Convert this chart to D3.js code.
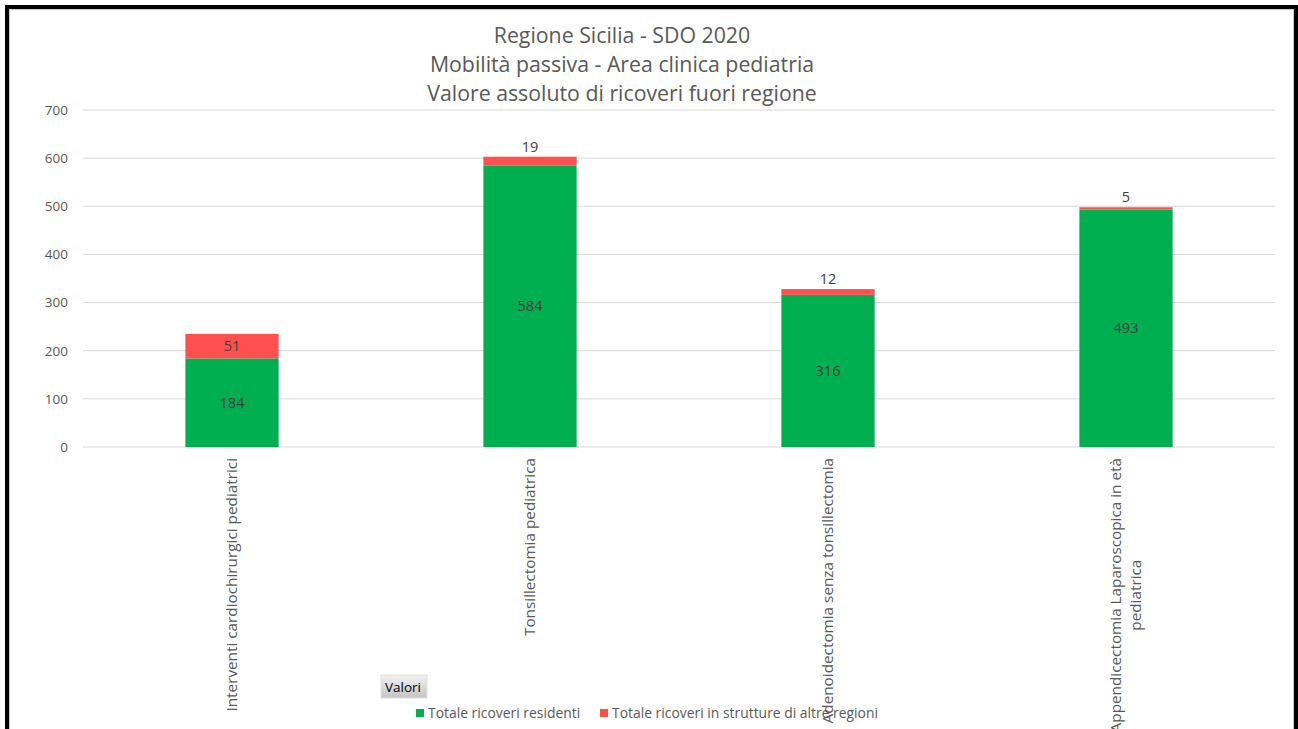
<!DOCTYPE html>
<html>
<head>
<meta charset="utf-8">
<script src="https://cdn.jsdelivr.net/npm/d3@7"></script>
<style>
  body { margin: 0; background: #fff; }
  text { font-family: "Open Sans", sans-serif; }
</style>
</head>
<body>
<div class="chart"></div>
<script>
const titleLines = [
  "Regione Sicilia - SDO 2020",
  "Mobilità passiva - Area clinica pediatria",
  "Valore assoluto di ricoveri fuori regione"
];
const categories = [
  ["Interventi cardiochirurgici pediatrici"],
  ["Tonsillectomia pediatrica"],
  ["Adenoidectomia senza tonsillectomia"],
  ["Appendicectomia Laparoscopica in età", "pediatrica"]
];
const residenti = [184, 584, 316, 493];
const altreRegioni = [51, 19, 12, 5];
const seriesNames = ["Totale ricoveri residenti", "Totale ricoveri in strutture di altre regioni"];
const seriesColors = ["#00B050", "#FF5050"];
const yTicks = [0, 100, 200, 300, 400, 500, 600, 700];

const W = 1298, H = 729;
const margin = { top: 110, right: 23, bottom: 282, left: 83 };
const width = W - margin.left - margin.right,
  height = H - margin.top - margin.bottom;

const svg = d3.select(".chart").append("svg")
  .attr("width", W).attr("height", H);

svg.append("rect").attr("width", W).attr("height", H).attr("fill", "#fff");

// outer frame
svg.append("rect")
  .attr("x", 7).attr("y", 7)
  .attr("width", 1289).attr("height", 760)
  .attr("fill", "none").attr("stroke", "#000").attr("stroke-width", 4);
svg.append("rect")
  .attr("x", 9.5).attr("y", 9.5)
  .attr("width", 1284).attr("height", 760)
  .attr("fill", "none").attr("stroke", "#c8c8c8").attr("stroke-width", 1);

// title
svg.append("g").selectAll("text")
  .data(titleLines).enter().append("text")
  .attr("x", 622)
  .attr("y", (d, i) => 43 + i * 29)
  .attr("text-anchor", "middle")
  .attr("font-size", 21.3)
  .attr("fill", "#595959")
  .text(d => d);

const g = svg.append("g")
  .attr("transform", "translate(" + margin.left + "," + margin.top + ")");

const keys = categories.map((c, i) => i);
const x = d3.scaleBand().domain(keys).range([0, width]).paddingInner(0.687).paddingOuter(0.3435);
const y = d3.scaleLinear().domain([0, 700]).range([height, 0]);

// gridlines
g.append("g").selectAll("line")
  .data(yTicks).enter().append("line")
  .attr("x1", 0).attr("x2", width)
  .attr("y1", d => y(d)).attr("y2", d => y(d))
  .attr("stroke", "#d9d9d9").attr("stroke-width", 1);

// y axis labels
const yAxis = g.append("g")
  .call(d3.axisLeft(y).tickValues(yTicks).tickSize(0).tickPadding(15));
yAxis.select(".domain").remove();
yAxis.selectAll("text")
  .attr("font-size", 13.5).attr("fill", "#595959")
  .style("font-family", "'Open Sans', sans-serif");

// stacked data
const rows = keys.map(i => ({ key: i, res: residenti[i], altre: altreRegioni[i] }));
const stack = d3.stack().keys(["res", "altre"])(rows);

g.selectAll(".layer")
  .data(stack).enter().append("g")
  .attr("fill", (d, i) => seriesColors[i])
  .selectAll("rect")
  .data(d => d).enter().append("rect")
  .attr("x", d => x(d.data.key))
  .attr("y", d => y(d[1]))
  .attr("height", d => y(d[0]) - y(d[1]))
  .attr("width", x.bandwidth());

// labels for residenti (center of segment)
g.append("g").selectAll("text")
  .data(stack[0]).enter().append("text")
  .attr("x", d => x(d.data.key) + x.bandwidth() / 2)
  .attr("y", d => (y(d[0]) + y(d[1])) / 2 + 5)
  .attr("text-anchor", "middle")
  .attr("font-size", 14.5).attr("fill", "#404040")
  .text(d => d.data.res);

// labels for altre regioni: inside if there is room, else above
g.append("g").selectAll("text")
  .data(stack[1]).enter().append("text")
  .attr("x", d => x(d.data.key) + x.bandwidth() / 2)
  .attr("y", d => {
    const h = y(d[0]) - y(d[1]);
    return h > 18 ? (y(d[0]) + y(d[1])) / 2 + 5 : y(d[1]) - 5;
  })
  .attr("text-anchor", "middle")
  .attr("font-size", 14.5).attr("fill", "#404040")
  .text(d => d.data.altre);

// legend
const legend = svg.append("g");
legend.append("defs").append("linearGradient")
  .attr("id", "btn").attr("x1", 0).attr("y1", 0).attr("x2", 0).attr("y2", 1)
  .selectAll("stop").data([["0%", "#f2f2f2"], ["100%", "#c4c4c4"]]).enter()
  .append("stop").attr("offset", d => d[0]).attr("stop-color", d => d[1]);
legend.append("rect")
  .attr("x", 381).attr("y", 675).attr("width", 46).attr("height", 23)
  .attr("fill", "url(#btn)").attr("stroke", "#e0e0e0");
legend.append("text")
  .attr("x", 385).attr("y", 692)
  .attr("font-size", 13.5).attr("fill", "#000")
  .text("Valori");

const legendX = [416, 600];
seriesNames.forEach((name, i) => {
  legend.append("rect")
    .attr("x", legendX[i]).attr("y", 709).attr("width", 8).attr("height", 8)
    .attr("fill", seriesColors[i]);
  legend.append("text")
    .attr("x", legendX[i] + 12).attr("y", 718)
    .attr("font-size", 13.9).attr("fill", "#595959")
    .text(name);
});

// x category labels, rotated
const xl = g.append("g").selectAll("g")
  .data(keys).enter().append("g")
  .attr("transform", d => "translate(" + (x(d) + x.bandwidth() / 2) + "," + (height + 11) + ") rotate(-90)");
xl.each(function (d) {
  const lines = categories[d];
  const sel = d3.select(this);
  const lh = 20;
  const off = -(lines.length - 1) * lh / 2;
  const t = sel.selectAll("text").data(lines).enter().append("text")
    .attr("font-size", 15.3).attr("fill", "#595959")
    .attr("y", (l, j) => off + j * lh + 5)
    .text(l => l);
  let maxW = 0;
  t.each(function () { maxW = Math.max(maxW, this.getComputedTextLength()); });
  t.attr("x", function () { return -(maxW + this.getComputedTextLength()) / 2; });
});
</script>
</body>
</html>
